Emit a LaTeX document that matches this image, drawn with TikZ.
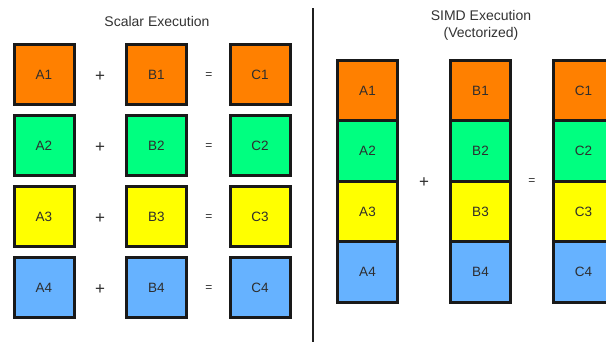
\documentclass[tikz,border=0pt]{standalone}
\usepackage{fontspec}
\setmainfont{Liberation Sans}
\begin{document}
\begin{tikzpicture}[x=1pt,y=-1pt,
  cell/.style={draw=black!90, line width=3pt, minimum width=60pt, inner sep=0pt,
    text=black!82, font=\fontsize{13.5}{15}\selectfont,
    text height=9.7pt, text depth=-5pt},
  sqcell/.style={cell, minimum height=60pt},
  veccell/.style={cell, minimum height=60.5pt},
  plusop/.style={text=black!82, font=\fontsize{17}{19}\selectfont, inner sep=0pt},
  eqop/.style={text=black!82, font=\fontsize{12}{14}\selectfont, inner sep=0pt},
  heading/.style={text=black!80, font=\fontsize{14}{17}\selectfont, align=center, inner sep=0pt},
  divider/.style={draw=black!88, line width=2.5pt}
]
\definecolor{lane1}{HTML}{FF8000}
\definecolor{lane2}{HTML}{00FF80}
\definecolor{lane3}{HTML}{FFFF00}
\definecolor{lane4}{HTML}{66B2FF}
\clip (0,0) rectangle (606,341);
\fill[white] (0,0) rectangle (606,341);

% scalar side: one addition per row
\node[heading] (stitle) at (157,21) {Scalar Execution};
\foreach \i/\y in {1/74.5,2/145.5,3/216.5,4/287.5}{
  \node[sqcell, fill=lane\i] (sa\i) at (44,\y) {A\i};
  \node[plusop] (splus\i) at (100,\y+2) {+};
  \node[sqcell, fill=lane\i] (sb\i) at (156.5,\y) {B\i};
  \node[eqop] (seq\i) at (209,\y+1) {=};
  \node[sqcell, fill=lane\i] (sc\i) at (260,\y) {C\i};
}

% separator
\coordinate (dtop) at (313,8);
\coordinate (dbot) at (313,345);
\draw[divider] (dtop) -- (dbot);

% vector side: whole registers at once
\node[heading] (vtitle) at (481,25.5) {SIMD Execution\\(Vectorized)};
\foreach \i/\y in {1/90.25,2/150.75,3/211.25,4/271.75}{
  \node[veccell, fill=lane\i] (va\i) at (367.5,\y) {A\i};
  \node[veccell, fill=lane\i] (vb\i) at (480.5,\y) {B\i};
  \node[veccell, fill=lane\i] (vc\i) at (583.5,\y) {C\i};
}
\node[plusop] (vplus) at (424,183) {+};
\node[eqop] (veq) at (532,182) {=};
\end{tikzpicture}
\end{document}
